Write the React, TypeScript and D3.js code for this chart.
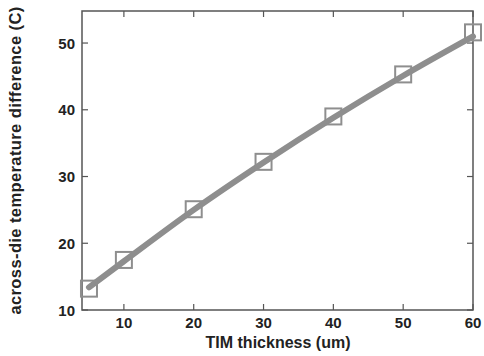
import React from 'react'
import * as d3 from 'd3'

// measured points (squares)
const thickness = [5, 10, 20, 30, 40, 50, 60]
const tempDiff = [13.2, 17.5, 25.1, 32.2, 39.0, 45.3, 51.6]
// fitted curve (thick line)
const fitDiff = [13.4, 17.3, 25.0, 32.1, 38.8, 45.1, 51.0]
const xTicks = [10, 20, 30, 40, 50, 60]
const yTicks = [10, 20, 30, 40, 50]

const W = 484
const H = 356
const m = {left: 82, right: 11, top: 11, bottom: 46}

export default function App() {
  const x = d3.scaleLinear().domain([4, 60]).range([m.left, W - m.right])
  const y = d3.scaleLinear().domain([10, 54.8]).range([H - m.bottom, m.top])

  const line = d3
    .line<number>()
    .x((d, i) => x(thickness[i]))
    .y(d => y(d))
    .curve(d3.curveMonotoneX)

  const axisColor = '#555'
  const markColor = '#8e8e8e'
  const font = 'Liberation Sans, Arial, sans-serif'

  return (
    <svg
      width={W}
      height={H}
      style={{position: 'absolute', left: 0, top: 0, background: '#fff'}}
    >
      {/* frame */}
      <rect
        x={m.left}
        y={m.top}
        width={W - m.left - m.right}
        height={H - m.top - m.bottom}
        fill="none"
        stroke={axisColor}
        strokeWidth={1.5}
      />
      {/* x ticks, bottom and top */}
      {xTicks.map(t => (
        <g key={'x' + t}>
          <line x1={x(t)} x2={x(t)} y1={H - m.bottom} y2={H - m.bottom - 6} stroke={axisColor} strokeWidth={1.2} />
          <line x1={x(t)} x2={x(t)} y1={m.top} y2={m.top + 6} stroke={axisColor} strokeWidth={1.2} />
          <text
            x={x(t)}
            y={H - m.bottom + 18}
            textAnchor="middle"
            fontFamily={font}
            fontWeight="bold"
            fontSize={15}
            fill="#222"
          >
            {t}
          </text>
        </g>
      ))}
      {/* y ticks, left and right */}
      {yTicks.map(t => (
        <g key={'y' + t}>
          <line x1={m.left} x2={m.left + 6} y1={y(t)} y2={y(t)} stroke={axisColor} strokeWidth={1.2} />
          <line x1={W - m.right} x2={W - m.right - 6} y1={y(t)} y2={y(t)} stroke={axisColor} strokeWidth={1.2} />
          <text
            x={m.left - 7}
            y={y(t) + 5.5}
            textAnchor="end"
            fontFamily={font}
            fontWeight="bold"
            fontSize={15}
            fill="#222"
          >
            {t}
          </text>
        </g>
      ))}
      {/* fitted line */}
      <path d={line(fitDiff) || ''} fill="none" stroke={markColor} strokeWidth={6} strokeLinecap="round" />
      {/* squares */}
      {thickness.map((t, i) => (
        <rect
          key={'s' + t}
          x={x(t) - 8}
          y={y(tempDiff[i]) - 8}
          width={16}
          height={16}
          fill="none"
          stroke={markColor}
          strokeWidth={2}
        />
      ))}
      {/* axis titles */}
      <text
        x={278}
        y={H - 8}
        textAnchor="middle"
        fontFamily={font}
        fontWeight="bold"
        fontSize={16}
        fill="#222"
      >
        TIM thickness (um)
      </text>
      <text
        transform={`translate(21,${(m.top + H - m.bottom) / 2}) rotate(-90)`}
        textAnchor="middle"
        fontFamily={font}
        fontWeight="bold"
        fontSize={16.5}
        letterSpacing={0.4}
        fill="#222"
      >
        across-die temperature difference (C)
      </text>
    </svg>
  )
}
